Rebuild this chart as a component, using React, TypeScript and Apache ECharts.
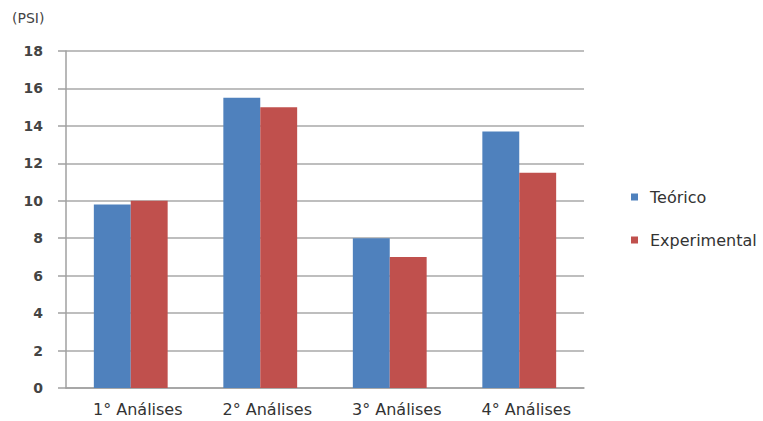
import React, { useEffect, useRef } from "react";
import * as echarts from "echarts";

const categories = ["1° Análises", "2° Análises", "3° Análises", "4° Análises"];
const teorico = [9.8, 15.5, 8.0, 13.7];
const experimental = [10.0, 15.0, 7.0, 11.5];
const seriesNames = ["Teórico", "Experimental"];
const unitLabel = "(PSI)";

const FONT = "'DejaVu Sans', 'Open Sans', sans-serif";

export default function App() {
  const ref = useRef<HTMLDivElement>(null);
  useEffect(() => {
    if (!ref.current) return;
    const chart = echarts.init(ref.current, undefined, { renderer: "svg" });
    chart.setOption({
      animation: false,
      backgroundColor: "#ffffff",
      textStyle: { fontFamily: FONT },
      title: {
        text: unitLabel,
        left: 12,
        top: 11,
        padding: 0,
        textStyle: { fontSize: 14, fontWeight: "normal", color: "#444", fontFamily: FONT },
      },
      legend: {
        orient: "vertical",
        left: 631,
        top: 189,
        padding: 0,
        itemWidth: 7,
        itemHeight: 7,
        itemGap: 27,
        icon: "rect",
        data: seriesNames,
        textStyle: { fontSize: 16, color: "#333", fontFamily: FONT, padding: [0, 0, 0, 7] },
      },
      grid: { left: 66, right: 179, top: 51, bottom: 33, containLabel: false },
      xAxis: {
        type: "category",
        data: categories,
        axisTick: { show: false },
        axisLine: { lineStyle: { color: "#a0a0a0", width: 1.5 } },
        axisLabel: {
          fontSize: 16,
          color: "#333",
          margin: 13,
          fontFamily: FONT,
          padding: [0, 0, 0, 14],
        },
      },
      yAxis: {
        type: "value",
        min: 0,
        max: 18,
        interval: 2,
        axisLine: { show: true, lineStyle: { color: "#a0a0a0", width: 1.5 } },
        axisTick: { show: true, length: 8, lineStyle: { color: "#a0a0a0", width: 1.5 } },
        splitLine: { lineStyle: { color: "#a8a8a8", width: 1.5 } },
        axisLabel: {
          fontSize: 14,
          fontWeight: "bold",
          color: "#444",
          margin: 23,
          fontFamily: FONT,
        },
      },
      series: [
        {
          name: seriesNames[0],
          type: "bar",
          data: teorico,
          itemStyle: { color: "#4F81BD" },
          barGap: "0%",
          barCategoryGap: "43%",
        },
        {
          name: seriesNames[1],
          type: "bar",
          data: experimental,
          itemStyle: { color: "#C0504D" },
        },
      ],
    });
    return () => chart.dispose();
  }, []);
  return (
    <div
      ref={ref}
      style={{ position: "fixed", left: 0, top: 0, width: 763, height: 421 }}
    />
  );
}
